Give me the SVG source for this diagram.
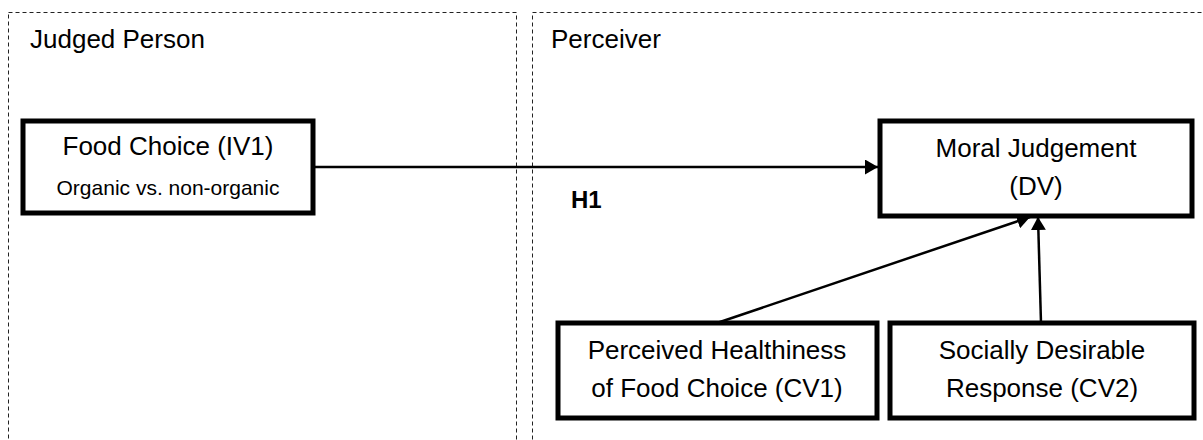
<svg xmlns="http://www.w3.org/2000/svg" width="1203" height="440" viewBox="0 0 1203 440">
  <style>
    .region { fill: none; stroke: #222; stroke-width: 1; stroke-dasharray: 4 3; }
    .box { fill: #fff; stroke: #000; stroke-width: 5; }
    .lbl { font-family: "Liberation Sans", Arial, sans-serif; font-size: 26px; fill: #000; }
    .t { font-family: "Liberation Sans", Arial, sans-serif; font-size: 26px; fill: #000; text-anchor: middle; }
    .s { font-family: "Liberation Sans", Arial, sans-serif; font-size: 21px; fill: #000; text-anchor: middle; }
    .h { font-family: "Liberation Sans", Arial, sans-serif; font-size: 24px; font-weight: bold; fill: #000; }
    .link { fill: none; stroke: #000; stroke-width: 2.5; }
  </style>
  <defs>
    <marker id="arrow" viewBox="0 0 13 15" refX="13" refY="7.5" markerWidth="13" markerHeight="15" markerUnits="userSpaceOnUse" orient="auto">
      <path d="M0,0 L13,7.5 L0,15 z" fill="#000"/>
    </marker>
  </defs>

  <!-- Regions -->
  <g id="region-judged">
    <rect class="region" x="8.5" y="12.5" width="508" height="440"/>
    <text class="lbl" x="30" y="48">Judged Person</text>
  </g>
  <g id="region-perceiver">
    <rect class="region" x="532.5" y="12.5" width="680" height="440"/>
    <text class="lbl" x="551" y="48">Perceiver</text>
  </g>

  <!-- Connectors -->
  <g id="connectors">
    <line class="link" x1="313" y1="167" x2="878" y2="167" marker-end="url(#arrow)"/>
    <line class="link" x1="717" y1="323" x2="1030" y2="217" marker-end="url(#arrow)"/>
    <line class="link" x1="1041" y1="323" x2="1038" y2="217" marker-end="url(#arrow)"/>
    <text class="h" x="571" y="208">H1</text>
  </g>

  <!-- Nodes -->
  <g id="food-choice">
    <rect class="box" x="23" y="121" width="290" height="92"/>
    <text class="t" x="168" y="155">Food Choice (IV1)</text>
    <text class="s" x="168" y="195">Organic vs. non-organic</text>
  </g>
  <g id="moral-judgement">
    <rect class="box" x="880" y="121" width="312" height="95"/>
    <text class="t" x="1036" y="157">Moral Judgement</text>
    <text class="t" x="1036" y="195">(DV)</text>
  </g>
  <g id="healthiness">
    <rect class="box" x="558" y="323" width="319" height="95"/>
    <text class="t" x="717" y="359">Perceived Healthiness</text>
    <text class="t" x="717" y="397">of Food Choice (CV1)</text>
  </g>
  <g id="social-desirability">
    <rect class="box" x="890" y="323" width="304" height="95"/>
    <text class="t" x="1042" y="359">Socially Desirable</text>
    <text class="t" x="1042" y="397">Response (CV2)</text>
  </g>
</svg>
